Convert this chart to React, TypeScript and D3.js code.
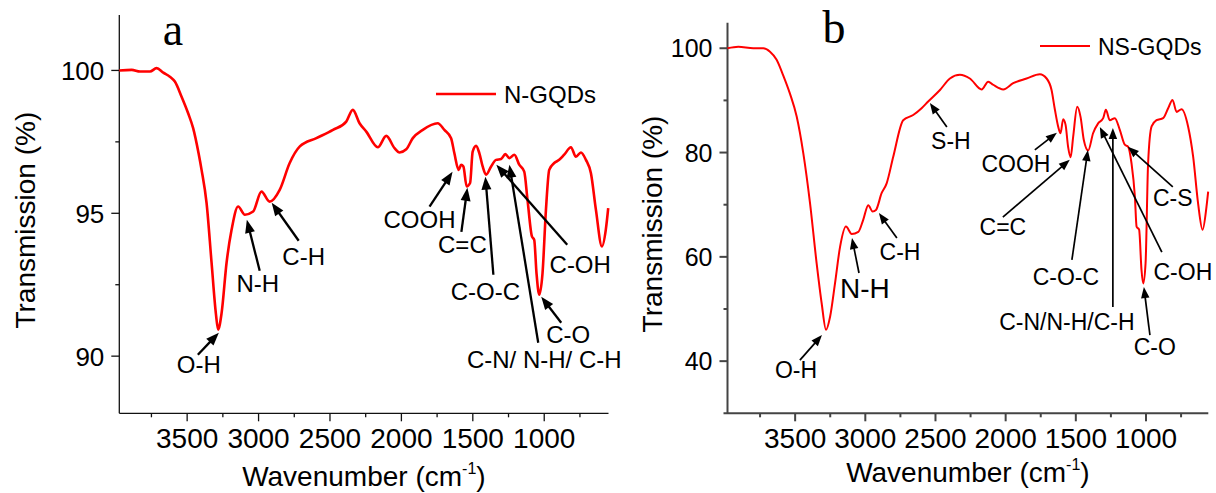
import React from 'react';
import * as d3 from 'd3';

// ---------- Panel a : N-GQDs ----------
const wavenumbersA = [3975, 3888, 3830, 3760, 3714, 3667, 3621, 3586, 3539, 3493, 3458, 3420, 3399, 3364, 3329, 3299, 3283, 3259, 3224, 3189, 3143, 3096, 3038, 2980, 2922, 2852, 2782, 2711, 2595, 2479, 2386, 2340, 2293, 2246, 2165, 2106, 2048, 2013, 1966, 1920, 1850, 1746, 1699, 1652, 1629, 1599, 1582, 1566, 1543, 1519, 1501, 1477, 1454, 1431, 1407, 1372, 1337, 1302, 1272, 1244, 1209, 1175, 1140, 1117, 1086, 1070, 1054, 1035, 1012, 988, 965, 930, 895, 860, 813, 778, 743, 708, 673, 638, 596, 569, 552];
const transmissionA = [100.0, 100.02, 99.96, 99.96, 100.08, 99.92, 99.78, 99.61, 99.08, 98.5, 97.98, 97.1, 96.52, 95.36, 93.27, 91.5, 90.93, 91.5, 93.27, 94.42, 95.24, 94.95, 95.06, 95.76, 95.41, 95.82, 96.76, 97.34, 97.63, 97.92, 98.21, 98.62, 98.15, 97.86, 97.31, 97.71, 97.28, 97.13, 97.24, 97.63, 97.92, 98.15, 97.92, 97.63, 97.1, 96.52, 96.7, 96.64, 95.94, 96.06, 97.16, 97.36, 97.1, 96.64, 96.35, 96.64, 96.87, 96.9, 97.07, 96.93, 97.05, 96.7, 96.46, 95.47, 94.19, 94.07, 92.9, 92.15, 92.9, 95.12, 96.52, 96.76, 96.87, 97.05, 97.31, 96.98, 97.13, 96.87, 96.4, 95.12, 93.84, 94.42, 95.18];

// ---------- Panel b : NS-GQDs ----------
const wavenumbersB = [3982, 3905, 3798, 3727, 3679, 3632, 3585, 3537, 3489, 3442, 3394, 3347, 3311, 3280, 3251, 3216, 3180, 3138, 3097, 3050, 3015, 2979, 2948, 2924, 2884, 2848, 2801, 2730, 2659, 2599, 2552, 2468, 2397, 2326, 2255, 2171, 2124, 2089, 2017, 1946, 1851, 1756, 1708, 1673, 1649, 1626, 1609, 1590, 1573, 1555, 1537, 1519, 1490, 1466, 1443, 1412, 1377, 1341, 1305, 1286, 1258, 1222, 1186, 1151, 1127, 1103, 1079, 1067, 1049, 1032, 1020, 1003, 985, 960, 925, 878, 842, 811, 782, 747, 700, 664, 629, 597, 569, 557];
const transmissionB = [100.0, 100.3, 100.0, 100.0, 99.35, 97.8, 94.8, 91.3, 86.9, 79.9, 70.3, 58.8, 51.1, 46.0, 48.5, 54.9, 61.9, 65.8, 64.4, 64.8, 67.1, 69.9, 68.7, 69.0, 72.2, 74.1, 79.2, 86.2, 87.2, 88.5, 89.8, 92.0, 94.2, 94.9, 94.2, 92.1, 93.6, 93.0, 92.1, 93.3, 94.2, 95.0, 94.2, 92.0, 88.2, 85.0, 83.7, 86.4, 85.3, 81.1, 79.1, 83.0, 88.8, 86.8, 82.4, 80.4, 83.7, 85.6, 86.6, 88.2, 86.2, 86.6, 84.3, 81.5, 81.1, 77.9, 71.5, 65.8, 65.2, 57.5, 54.9, 58.8, 77.9, 85.0, 86.2, 86.6, 88.5, 90.1, 87.8, 88.3, 85.0, 79.2, 70.3, 65.2, 69.6, 72.5];

// ---------- Ticks ----------
const xMajorTicks = [3500, 3000, 2500, 2000, 1500, 1000];
const xMinorTicks = [3750, 3250, 2750, 2250, 1750, 1250, 750];
const yMajorTicksA = [90, 95, 100];
const yMinorTicksA = [92.5, 97.5];
const yMajorTicksB = [40, 60, 80, 100];
const yMinorTicksB = [30, 50, 70, 90];

// ---------- Annotations (data coordinates) ----------
type Ann = { label: string; tx: number; ty: number; x1: number; y1: number; x2: number; y2: number; big?: boolean };
const annotationsA: Ann[] = [
  { label: 'O-H', tx: 3418, ty: 89.42, x1: 3425, y1: 90.05, x2: 3278, y2: 90.82 },
  { label: 'N-H', tx: 3006, ty: 92.26, x1: 2992, y1: 92.99, x2: 3082, y2: 94.77 },
  { label: 'C-H', tx: 2684, ty: 93.2, x1: 2719, y1: 94.04, x2: 2908, y2: 95.37 },
  { label: 'COOH', tx: 1873, ty: 94.49, x1: 1803, y1: 95.23, x2: 1642, y2: 96.45 },
  { label: 'C=C', tx: 1573, ty: 93.62, x1: 1580, y1: 94.35, x2: 1538, y2: 95.89 },
  { label: 'C-O-C', tx: 1412, ty: 91.98, x1: 1356, y1: 92.85, x2: 1412, y2: 96.28 },
  { label: 'C-OH', tx: 748, ty: 92.92, x1: 839, y1: 93.9, x2: 1335, y2: 96.7 },
  { label: 'C-O', tx: 832, ty: 90.47, x1: 881, y1: 91.17, x2: 1021, y2: 92.08 },
  { label: 'C-N/ N-H/ C-H', tx: 1000, ty: 89.6, x1: 1042, y1: 90.47, x2: 1244, y2: 96.7 },
];
const annotationsB: Ann[] = [
  { label: 'O-H', tx: 3494, ty: 36.77, x1: 3466, y1: 40.2, x2: 3309, y2: 45.0 },
  { label: 'N-H', tx: 3003, ty: 52.1, x1: 3045, y1: 56.9, x2: 3095, y2: 63.6, big: true },
  { label: 'C-H', tx: 2753, ty: 59.4, x1: 2775, y1: 63.6, x2: 2903, y2: 68.4 },
  { label: 'S-H', tx: 2390, ty: 80.7, x1: 2419, y1: 84.9, x2: 2540, y2: 89.5 },
  { label: 'COOH', tx: 1927, ty: 76.3, x1: 1792, y1: 80.5, x2: 1635, y2: 83.8 },
  { label: 'C=C', tx: 2020, ty: 64.2, x1: 2020, y1: 67.6, x2: 1543, y2: 78.6 },
  { label: 'C-O-C', tx: 1571, ty: 54.6, x1: 1528, y1: 59.4, x2: 1414, y2: 80.5 },
  { label: 'C-N/N-H/C-H', tx: 1564, ty: 46.0, x1: 1236, y1: 50.4, x2: 1236, y2: 84.7 },
  { label: 'C-O', tx: 937, ty: 41.2, x1: 972, y1: 45.0, x2: 1015, y2: 54.2 },
  { label: 'C-OH', tx: 737, ty: 55.6, x1: 887, y1: 60.9, x2: 1329, y2: 84.9 },
  { label: 'C-S', tx: 809, ty: 69.8, x1: 809, y1: 73.4, x2: 1129, y2: 81.1 },
];

const SANS = '"Liberation Sans", Arial, sans-serif';
const SERIF = '"Liberation Serif", "Times New Roman", serif';

type PanelCfg = {
  left: number; right: number; top: number; bottom: number;
  xDomain: [number, number]; yDomain: [number, number];
  wn: number[]; tr: number[];
  yMajor: number[]; yMinor: number[];
  ann: Ann[];
  letter: string; letterX: number; letterY: number;
  legend: string; legX1: number; legX2: number; legY: number; legFont: number;
  axisColor: string; axisWidth: number; lineWidth: number;
  yLabelFont: number; annFont: number; arrowW: number; headL: number; headW: number;
  yTitleX: number; xTitleY: number;
};

function Arrow({ x1, y1, x2, y2, w, L, W }: { x1: number; y1: number; x2: number; y2: number; w: number; L: number; W: number }) {
  const dx = x2 - x1, dy = y2 - y1;
  const len = Math.hypot(dx, dy) || 1;
  const ux = dx / len, uy = dy / len;
  const bx = x2 - ux * L, by = y2 - uy * L;
  const nx = -uy, ny = ux;
  const pts = `${x2},${y2} ${bx + nx * W / 2},${by + ny * W / 2} ${bx - nx * W / 2},${by - ny * W / 2}`;
  return (
    <g>
      <line x1={x1} y1={y1} x2={bx + ux * 1} y2={by + uy * 1} stroke="#000" strokeWidth={w} />
      <polygon points={pts} fill="#000" />
    </g>
  );
}

function Panel({ c }: { c: PanelCfg }) {
  const x = d3.scaleLinear().domain(c.xDomain).range([c.left, c.right]);
  const y = d3.scaleLinear().domain(c.yDomain).range([c.bottom, c.top]);
  const pts: [number, number][] = c.wn.map((w, i) => [w, c.tr[i]]);
  const line = d3.line<[number, number]>().x(d => x(d[0])).y(d => y(d[1])).curve(d3.curveMonotoneX);
  const cx = (c.left + c.right) / 2;
  const cy = (c.top + c.bottom) / 2;
  return (
    <g>
      {/* axes */}
      <line x1={c.left} y1={c.top} x2={c.left} y2={c.bottom} stroke={c.axisColor} strokeWidth={c.axisWidth} />
      <line x1={c.left - (c.yMinor.includes(c.yDomain[0]) ? 4 : 0)} y1={c.bottom} x2={c.right} y2={c.bottom} stroke={c.axisColor} strokeWidth={c.axisWidth} />
      {xMajorTicks.map(t => (
        <g key={'xm' + t}>
          <line x1={x(t)} x2={x(t)} y1={c.bottom} y2={c.bottom + 8} stroke={c.axisColor} strokeWidth={c.axisWidth} />
          <text x={x(t)} y={448} textAnchor="middle" fontFamily={SANS} fontSize={28} fill="#000">{t}</text>
        </g>
      ))}
      {xMinorTicks.map(t => (
        <line key={'xn' + t} x1={x(t)} x2={x(t)} y1={c.bottom} y2={c.bottom + 4} stroke={c.axisColor} strokeWidth={c.axisWidth} />
      ))}
      {c.yMajor.map(t => (
        <g key={'ym' + t}>
          <line x1={c.left - 8} x2={c.left} y1={y(t)} y2={y(t)} stroke={c.axisColor} strokeWidth={c.axisWidth} />
          <text x={c.left - 15} y={y(t) + c.yLabelFont * 0.36} textAnchor="end" fontFamily={SANS} fontSize={c.yLabelFont} fill="#000">{t}</text>
        </g>
      ))}
      {c.yMinor.filter(t => t > c.yDomain[0]).map(t => (
        <line key={'yn' + t} x1={c.left - 4} x2={c.left} y1={y(t)} y2={y(t)} stroke={c.axisColor} strokeWidth={c.axisWidth} />
      ))}
      {/* axis titles */}
      <text x={cx} y={c.xTitleY} textAnchor="middle" fontFamily={SANS} fontSize={28} fill="#000">
        Wavenumber (cm<tspan fontSize={16} dy={-12}>-1</tspan><tspan dy={12}>)</tspan>
      </text>
      <text transform={`translate(${c.yTitleX},${cy + 6}) rotate(-90)`} textAnchor="middle" fontFamily={SANS} fontSize={28} fill="#000">Transmission (%)</text>
      {/* spectrum */}
      <path d={line(pts) || ''} fill="none" stroke="#ff0000" strokeWidth={c.lineWidth} strokeLinejoin="round" />
      {/* panel letter */}
      <text x={c.letterX} y={c.letterY} textAnchor="middle" fontFamily={SERIF} fontSize={46} fill="#000">{c.letter}</text>
      {/* legend */}
      <line x1={c.legX1} x2={c.legX2} y1={c.legY} y2={c.legY} stroke="#ff0000" strokeWidth={c.lineWidth} />
      <text x={c.legX2 + 8} y={c.legY + c.legFont * 0.38} fontFamily={SANS} fontSize={c.legFont} fill="#000">{c.legend}</text>
      {/* annotations */}
      {c.ann.map((a, i) => (
        <g key={'a' + i}>
          <Arrow x1={x(a.x1)} y1={y(a.y1)} x2={x(a.x2)} y2={y(a.y2)} w={c.arrowW} L={c.headL} W={c.headW} />
          <text x={x(a.tx)} y={y(a.ty)} textAnchor="middle" fontFamily={SANS} fontSize={a.big ? 28 : c.annFont} fill="#000">{a.label}</text>
        </g>
      ))}
    </g>
  );
}

const panelA: PanelCfg = {
  left: 119.3, right: 608.5, top: 15, bottom: 413.3,
  xDomain: [3975, 550], yDomain: [88, 101.94],
  wn: wavenumbersA, tr: transmissionA,
  yMajor: yMajorTicksA, yMinor: yMinorTicksA,
  ann: annotationsA,
  letter: 'a', letterX: 173, letterY: 45,
  legend: 'N-GQDs', legX1: 436, legX2: 496, legY: 94, legFont: 24,
  axisColor: '#111', axisWidth: 1.3, lineWidth: 2.6,
  yLabelFont: 26, annFont: 24, arrowW: 2.3, headL: 13, headW: 10,
  yTitleX: 35, xTitleY: 486,
};

const panelB: PanelCfg = {
  left: 727.5, right: 1208.3, top: 22.7, bottom: 413.3,
  xDomain: [3982, 556], yDomain: [30, 104.9],
  wn: wavenumbersB, tr: transmissionB,
  yMajor: yMajorTicksB, yMinor: yMinorTicksB,
  ann: annotationsB,
  letter: 'b', letterX: 834, letterY: 43,
  legend: 'NS-GQDs', legX1: 1040, legX2: 1090, legY: 46, legFont: 23,
  axisColor: '#444', axisWidth: 2, lineWidth: 2,
  yLabelFont: 25, annFont: 23, arrowW: 1.7, headL: 11, headW: 8.5,
  yTitleX: 662, xTitleY: 482,
};

export default function App() {
  return (
    <svg width={1216} height={493} style={{ position: 'absolute', left: 0, top: 0, background: '#fff' }}>
      <rect width={1216} height={493} fill="#fff" />
      <Panel c={panelA} />
      <Panel c={panelB} />
    </svg>
  );
}
